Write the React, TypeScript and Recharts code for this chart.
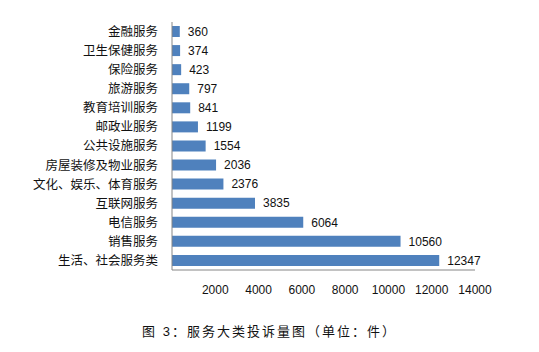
import { BarChart, Bar, XAxis, YAxis, LabelList } from 'recharts';

const categories = [
    '金融服务',
    '卫生保健服务',
    '保险服务',
    '旅游服务',
    '教育培训服务',
    '邮政业服务',
    '公共设施服务',
    '房屋装修及物业服务',
    '文化、娱乐、体育服务',
    '互联网服务',
    '电信服务',
    '销售服务',
    '生活、社会服务类',
];
const complaints = [360, 374, 423, 797, 841, 1199, 1554, 2036, 2376, 3835, 6064, 10560, 12347];
const xTicks = [2000, 4000, 6000, 8000, 10000, 12000, 14000];
const title = '图 3：服务大类投诉量图（单位：件）';

const data = categories.map((name, i) => ({ name, value: complaints[i] }));

const font = "'Liberation Sans', 'Noto Sans CJK SC', sans-serif";

export default function App() {
    return (
        <div style={{ position: 'absolute', left: 0, top: 0, width: 539, height: 352, background: '#fff', fontFamily: font }}>
            <BarChart
                width={539}
                height={352}
                data={data}
                layout="vertical"
                margin={{ top: 22, right: 64, left: 0, bottom: 52 }}
            >
                <XAxis
                    type="number"
                    domain={[0, 14000]}
                    ticks={xTicks}
                    tickLine={false}
                    axisLine={{ stroke: '#868686' }}
                    tick={{ fill: '#111', fontSize: 12, fontFamily: font }}
                    tickMargin={9}
                    height={30}
                />
                <YAxis
                    type="category"
                    dataKey="name"
                    width={172}
                    tickLine={false}
                    axisLine={{ stroke: '#868686' }}
                    tick={{ fill: '#111', fontSize: 12.5, fontFamily: font }}
                    tickMargin={8}
                    interval={0}
                />
                <Bar dataKey="value" fill="#4f81bd" barSize={11} isAnimationActive={false}>
                    <LabelList dataKey="value" position="right" offset={8} fill="#111" fontSize={12} fontFamily={font} />
                </Bar>
            </BarChart>
            <div style={{ position: 'absolute', left: 0, width: 539, top: 321, textAlign: 'center', fontSize: 13, color: '#111', letterSpacing: 2 }}>
                {title}
            </div>
        </div>
    );
}
